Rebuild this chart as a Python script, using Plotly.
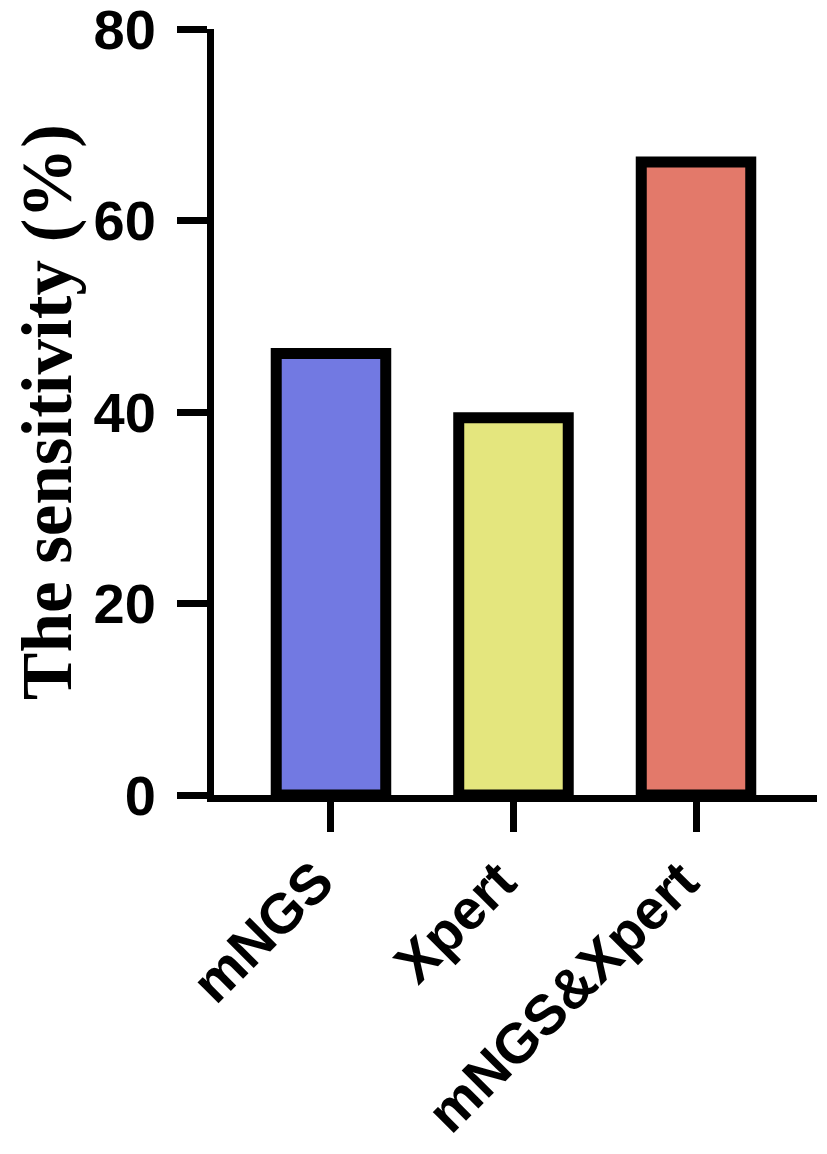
import plotly.graph_objects as go

categories = ["mNGS", "Xpert", "mNGS&Xpert"]
sensitivity = [46.1, 39.4, 66.1]
bar_colors = ["#7279E2", "#E4E67E", "#E3796A"]
y_ticks = [0, 20, 40, 60, 80]

fig = go.Figure()
fig.add_trace(go.Bar(
    x=categories,
    y=sensitivity,
    width=0.6,
    marker=dict(color=bar_colors, line=dict(color="black", width=11)),
))

fig.update_layout(
    width=827,
    height=1154,
    margin=dict(l=206, r=18, t=21, b=367),
    paper_bgcolor="white",
    plot_bgcolor="white",
    showlegend=False,
)
fig.update_xaxes(
    range=[-0.641, 2.663],
    automargin=False,
    showline=True, linecolor="black", linewidth=7,
    ticks="outside", ticklen=30, tickwidth=7, tickcolor="black",
    tickangle=-45,
    ticklabelshift=-14, ticklabelstandoff=-6,
    tickfont=dict(family="Liberation Sans", size=56, color="black", weight="bold"),
    showgrid=False, zeroline=False,
)
fig.update_yaxes(
    range=[0, 80],
    automargin=False,
    tickvals=y_ticks,
    showline=True, linecolor="black", linewidth=7,
    ticks="outside", ticklen=30, tickwidth=7, tickcolor="black",
    ticklabelstandoff=10, ticklabeloverflow="allow",
    tickfont=dict(family="Liberation Sans", size=56, color="black", weight="bold"),
    title=dict(text="The sensitivity (%)",
               font=dict(family="Liberation Serif", size=71, color="black", weight="bold"),
               standoff=24),
    showgrid=False, zeroline=False,
)

fig.write_html("out.html")
